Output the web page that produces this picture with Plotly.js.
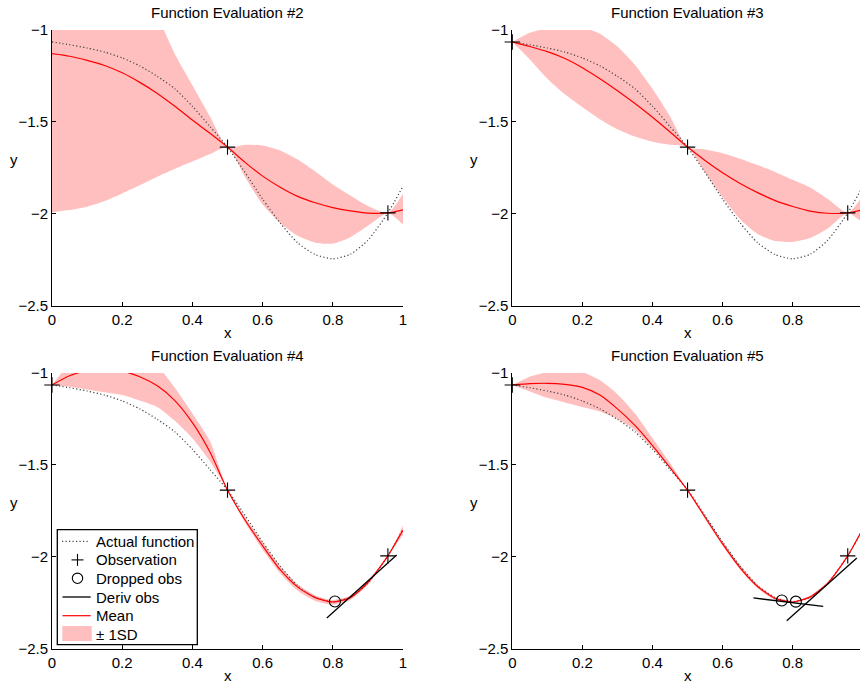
<!DOCTYPE html>
<html>
<head>
<meta charset="utf-8">
<script src="https://cdn.plot.ly/plotly-3.0.1.min.js"></script>
<style>html,body{margin:0;padding:0;background:#fff;}#chart{width:860px;height:686px;}</style>
</head>
<body>
<div id="chart"></div>
<script>
// ---- data ----
const xs = [0, 0.05, 0.1, 0.15, 0.2, 0.25, 0.3, 0.35, 0.4, 0.45, 0.5, 0.55, 0.6, 0.65, 0.7, 0.75, 0.8, 0.85, 0.9, 0.957, 1.0];
const actualY = [-1.065, -1.08, -1.098, -1.12, -1.152, -1.195, -1.252, -1.32, -1.415, -1.525, -1.637, -1.775, -1.92, -2.05, -2.158, -2.222, -2.245, -2.22, -2.144, -1.995, -1.85];

const titles = ["Function Evaluation #2", "Function Evaluation #3", "Function Evaluation #4", "Function Evaluation #5"];

const mean2  = [-1.129, -1.143, -1.165, -1.193, -1.233, -1.285, -1.345, -1.415, -1.49, -1.562, -1.637, -1.72, -1.795, -1.855, -1.905, -1.94, -1.966, -1.984, -1.996, -1.995, -1.978];
const upper2 = [-0.27, -0.31, -0.37, -0.46, -0.58, -0.73, -0.92, -1.13, -1.30, -1.47, -1.637, -1.624, -1.628, -1.655, -1.705, -1.77, -1.84, -1.90, -1.957, -1.995, -1.891];
const lower2 = [-1.992, -1.98, -1.961, -1.93, -1.889, -1.845, -1.798, -1.755, -1.716, -1.675, -1.637, -1.80, -1.95, -2.05, -2.12, -2.157, -2.162, -2.127, -2.065, -1.995, -2.058];

const mean3  = [-1.065, -1.09, -1.118, -1.155, -1.205, -1.265, -1.33, -1.40, -1.475, -1.555, -1.637, -1.71, -1.777, -1.835, -1.885, -1.928, -1.96, -1.985, -1.997, -1.995, -1.978];
const upper3 = [-1.065, -1.015, -0.99, -0.975, -0.985, -1.02, -1.09, -1.19, -1.32, -1.47, -1.637, -1.65, -1.67, -1.70, -1.735, -1.772, -1.815, -1.857, -1.92, -1.995, -1.90];
const lower3 = [-1.065, -1.16, -1.265, -1.35, -1.42, -1.485, -1.54, -1.58, -1.608, -1.625, -1.637, -1.775, -1.91, -2.03, -2.11, -2.148, -2.153, -2.132, -2.08, -1.995, -2.05];

const mean4  = [-1.065, -1.015, -0.988, -0.98, -0.99, -1.02, -1.07, -1.15, -1.27, -1.43, -1.637, -1.80, -1.94, -2.07, -2.165, -2.222, -2.246, -2.222, -2.14, -1.995, -1.855];
const upper4 = [-1.065, -0.95, -0.88, -0.85, -0.85, -0.88, -0.96, -1.08, -1.22, -1.37, -1.637, -1.785, -1.92, -2.05, -2.15, -2.21, -2.235, -2.21, -2.13, -1.995, -1.83];
const lower4 = [-1.065, -1.075, -1.09, -1.105, -1.12, -1.15, -1.185, -1.26, -1.355, -1.48, -1.637, -1.815, -1.96, -2.09, -2.185, -2.24, -2.26, -2.235, -2.152, -1.995, -1.88];

const mean5  = [-1.065, -1.058, -1.056, -1.062, -1.078, -1.12, -1.195, -1.285, -1.395, -1.515, -1.637, -1.785, -1.93, -2.06, -2.162, -2.227, -2.246, -2.218, -2.145, -1.995, -1.848];
const upper5 = [-1.065, -1.02, -0.995, -0.985, -0.995, -1.04, -1.115, -1.22, -1.355, -1.49, -1.637, -1.772, -1.915, -2.045, -2.152, -2.218, -2.24, -2.212, -2.135, -1.995, -1.84];
const lower5 = [-1.065, -1.10, -1.135, -1.16, -1.185, -1.21, -1.25, -1.31, -1.41, -1.52, -1.637, -1.795, -1.94, -2.07, -2.172, -2.234, -2.252, -2.225, -2.15, -1.995, -1.858];

const obs2X = [0.5, 0.957];       const obs2Y = [-1.637, -1.995];
const obs3X = [0, 0.5, 0.957];    const obs3Y = [-1.065, -1.637, -1.995];
const obs4X = [0, 0.5, 0.957];    const obs4Y = [-1.065, -1.637, -1.995];
const obs5X = [0, 0.5, 0.957];    const obs5Y = [-1.065, -1.637, -1.995];

const drop4X = [0.806];           const drop4Y = [-2.243];
const drop5X = [0.769, 0.809];    const drop5Y = [-2.238, -2.244];

const deriv4X  = [0.783, 0.982];  const deriv4Y  = [-2.333, -1.990];
const deriv5aX = [0.688, 0.887];  const deriv5aY = [-2.224, -2.270];
const deriv5bX = [0.783, 0.983];  const deriv5bY = [-2.348, -2.006];

const xTicks = [0, 0.2, 0.4, 0.6, 0.8, 1];
const yTicks = [-2.5, -2, -1.5, -1];
const legendLabels = ["Actual function", "Observation", "Dropped obs", "Deriv obs", "Mean", "± 1SD"];

// ---- styles ----
const BAND = 'rgb(255,191,191)';
const FONT = 'Liberation Sans, Arial, Helvetica, sans-serif';
const DOT = '1.2px,2.3px';
const W = 860, H = 686;

const panels = [
  {xa:'x',  ya:'y',  mean:mean2, upper:upper2, lower:lower2, ox:obs2X, oy:obs2Y, dx:[], dy:[], derivs:[]},
  {xa:'x2', ya:'y2', mean:mean3, upper:upper3, lower:lower3, ox:obs3X, oy:obs3Y, dx:[], dy:[], derivs:[]},
  {xa:'x3', ya:'y3', mean:mean4, upper:upper4, lower:lower4, ox:obs4X, oy:obs4Y, dx:drop4X, dy:drop4Y, derivs:[[deriv4X, deriv4Y]]},
  {xa:'x4', ya:'y4', mean:mean5, upper:upper5, lower:lower5, ox:obs5X, oy:obs5Y, dx:drop5X, dy:drop5Y, derivs:[[deriv5aX, deriv5aY],[deriv5bX, deriv5bY]]}
];

const traces = [];
panels.forEach(p => {
  const sh = {shape:'spline', smoothing:0.6};
  traces.push({x:xs, y:p.lower, xaxis:p.xa, yaxis:p.ya, mode:'lines', line:Object.assign({width:0, color:BAND}, sh), showlegend:false, hoverinfo:'skip'});
  traces.push({x:xs, y:p.upper, xaxis:p.xa, yaxis:p.ya, mode:'lines', fill:'tonexty', fillcolor:BAND, line:Object.assign({width:0, color:BAND}, sh), name:'± 1SD', showlegend:false});
  traces.push({x:xs, y:actualY, xaxis:p.xa, yaxis:p.ya, mode:'lines', line:Object.assign({width:1.2, color:'#444', dash:DOT}, sh), name:'Actual function', showlegend:false});
  traces.push({x:xs, y:p.mean, xaxis:p.xa, yaxis:p.ya, mode:'lines', line:Object.assign({width:1.2, color:'#ff0000'}, sh), name:'Mean', showlegend:false});
  p.derivs.forEach(d => {
    traces.push({x:d[0], y:d[1], xaxis:p.xa, yaxis:p.ya, mode:'lines', line:{width:1.3, color:'#000'}, name:'Deriv obs', showlegend:false});
  });
  traces.push({x:p.ox, y:p.oy, xaxis:p.xa, yaxis:p.ya, mode:'markers', cliponaxis:false,
    marker:{symbol:'cross-thin-open', size:11, color:'#000', line:{width:1.1, color:'#000'}}, name:'Observation', showlegend:false});
  if (p.dx.length) {
    traces.push({x:p.dx, y:p.dy, xaxis:p.xa, yaxis:p.ya, mode:'markers', cliponaxis:false,
      marker:{symbol:'circle-open', size:11, color:'#000', line:{width:1.1, color:'#000'}}, name:'Dropped obs', showlegend:false});
  }
});

// ---- layout ----
const colX = [[52, 403], [512.3, 860]];
const rowY = [[30, 305.7], [373, 648.7]];
const dom = (a, b) => [a / W, b / W];
const domY = (top, bot) => [1 - bot / H, 1 - top / H];
const fmt = v => String(v).replace('-', '\u2212');

function xax(col, row) {
  const c = colX[col];
  const n = row * 2 + col;
  return {domain: dom(c[0], c[1]), range: col === 0 ? [0, 1] : [0, (c[1] - c[0]) / 350.5],
    anchor: 'y' + (n === 0 ? '' : (n + 1)),
    tickvals: xTicks, ticktext: xTicks.map(fmt), ticks:'inside', ticklen:4, tickcolor:'#000', tickwidth:1,
    showline:true, linecolor:'#000', linewidth:1, showgrid:false, zeroline:false,
    tickfont:{size:15, color:'#000', family:FONT}, fixedrange:true};
}
function yax(col, row) {
  const r = rowY[row];
  const n = row * 2 + col;
  return {domain: domY(r[0], r[1]), range:[-2.5, -1],
    anchor: 'x' + (n === 0 ? '' : (n + 1)),
    tickvals: yTicks, ticktext: yTicks.map(fmt), ticks:'inside', ticklen:4, tickcolor:'#000', tickwidth:1,
    showline:true, linecolor:'#000', linewidth:1, showgrid:false, zeroline:false,
    tickfont:{size:15, color:'#000', family:FONT}, fixedrange:true};
}

const annotations = [];
const txt = {size:15, color:'#000', family:FONT};
[[0,0],[1,0],[0,1],[1,1]].forEach(([col,row], i) => {
  const cx = col === 0 ? 227.5 : 687.5;
  const top = rowY[row][0];
  annotations.push({text: titles[i], xref:'paper', yref:'paper', x: cx / W, y: 1 - (top - 17.5) / H,
    xanchor:'center', yanchor:'middle', showarrow:false, font:txt});
  annotations.push({text:'x', xref:'paper', yref:'paper', x: cx / W, y: 1 - (top + 302) / H,
    xanchor:'center', yanchor:'middle', showarrow:false, font:txt});
  const yx = col === 0 ? 14 : 474.3;
  annotations.push({text:'y', xref:'paper', yref:'paper', x: yx / W, y: 1 - (top + 129) / H,
    xanchor:'center', yanchor:'middle', showarrow:false, font:txt});
});

// ---- legend (drawn in the lower-left panel) ----
const px = v => v / W, py = v => 1 - v / H;
const rowsY = [541.3, 559.9, 578.3, 597, 615.7, 634.2];
const shapes = [];
shapes.push({type:'rect', xref:'paper', yref:'paper', x0:px(57.3), x1:px(197.3), y0:py(529.7), y1:py(644.7),
  fillcolor:'#fff', line:{color:'#000', width:1.3}, layer:'above'});
shapes.push({type:'line', xref:'paper', yref:'paper', x0:px(62), x1:px(90), y0:py(rowsY[0]), y1:py(rowsY[0]),
  line:{color:'#444', width:1.2, dash:DOT}, layer:'above'});
shapes.push({type:'line', xref:'paper', yref:'paper', x0:px(71.5), x1:px(83.5), y0:py(rowsY[1]), y1:py(rowsY[1]),
  line:{color:'#000', width:1.1}, layer:'above'});
shapes.push({type:'line', xref:'paper', yref:'paper', x0:px(77.5), x1:px(77.5), y0:py(rowsY[1] - 6), y1:py(rowsY[1] + 6),
  line:{color:'#000', width:1.1}, layer:'above'});
shapes.push({type:'circle', xref:'paper', yref:'paper', x0:px(72.3), x1:px(82.7), y0:py(rowsY[2] - 5.2), y1:py(rowsY[2] + 5.2),
  line:{color:'#000', width:1.1}, layer:'above'});
shapes.push({type:'line', xref:'paper', yref:'paper', x0:px(62.5), x1:px(90.7), y0:py(rowsY[3]), y1:py(rowsY[3]),
  line:{color:'#000', width:1.3}, layer:'above'});
shapes.push({type:'line', xref:'paper', yref:'paper', x0:px(62.5), x1:px(90.7), y0:py(rowsY[4]), y1:py(rowsY[4]),
  line:{color:'#ff0000', width:1.2}, layer:'above'});
shapes.push({type:'rect', xref:'paper', yref:'paper', x0:px(62.3), x1:px(91.7), y0:py(626), y1:py(641),
  fillcolor:BAND, line:{width:0}, layer:'above'});
legendLabels.forEach((t, i) => {
  annotations.push({text:t, xref:'paper', yref:'paper', x:px(94), y:py(rowsY[i]), xanchor:'left', yanchor:'middle',
    showarrow:false, font:txt});
});

const layout = {
  width: W, height: H,
  margin: {l:0, r:0, t:0, b:0},
  paper_bgcolor:'#fff', plot_bgcolor:'#fff',
  font: {family: FONT, size: 15, color:'#000'},
  xaxis: xax(0,0), yaxis: yax(0,0),
  xaxis2: xax(1,0), yaxis2: yax(1,0),
  xaxis3: xax(0,1), yaxis3: yax(0,1),
  xaxis4: xax(1,1), yaxis4: yax(1,1),
  showlegend: false,
  shapes: shapes,
  annotations: annotations,
  hovermode: false
};

Plotly.newPlot('chart', traces, layout, {displayModeBar:false, staticPlot:true});
</script>
</body>
</html>
